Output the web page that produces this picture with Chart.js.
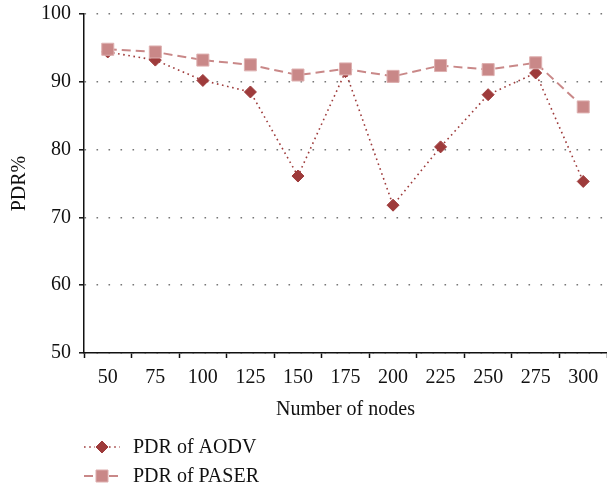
<!DOCTYPE html>
<html>
<head>
<meta charset="utf-8">
<script src="https://cdn.jsdelivr.net/npm/chart.js@4/dist/chart.umd.min.js"></script>
<style>
  html, body { margin: 0; padding: 0; background: #fff; }
  #wrap { width: 607px; height: 491px; position: relative; }
</style>
</head>
<body>
<div id="wrap"><canvas id="c" width="607" height="491"></canvas></div>
<script>
// Packet delivery ratio versus network size
const nodeCounts = ['50', '75', '100', '125', '150', '175', '200', '225', '250', '275', '300'];
const pdrAODV  = [94.4, 93.2, 90.2, 88.5, 76.1, 91.5, 71.8, 80.4, 88.1, 91.3, 75.3];
const pdrPASER = [94.8, 94.4, 93.2, 92.5, 91.0, 91.9, 90.8, 92.4, 91.8, 92.8, 86.3];
const yTicks   = [50, 60, 70, 80, 90, 100];

const SERIF = '"Liberation Serif", "DejaVu Serif", serif';
const FONT_SIZE = 20;
const AODV_COLOR = '#9e3b3b';
const PASER_COLOR = '#c98888';
const PASER_EDGE = '#deb0b0';

function drawMarker(ctx, style, r, x, y) {
  if (style === 'rectRot') {
    ctx.moveTo(x, y - r); ctx.lineTo(x + r, y); ctx.lineTo(x, y + r); ctx.lineTo(x - r, y); ctx.closePath();
  } else {
    const s = Math.SQRT1_2 * r;
    ctx.rect(x - s, y - s, 2 * s, 2 * s);
  }
}

// Legend drawn below the axes: line sample with marker, then label
const sideLegend = {
  id: 'sideLegend',
  afterDraw(chart) {
    const ctx = chart.ctx;
    const rows = [447, 476];
    ctx.save();
    chart.data.datasets.forEach((ds, i) => {
      const y = rows[i];
      const x0 = 84, x1 = 120, xm = 102;
      ctx.strokeStyle = ds.borderColor;
      ctx.lineWidth = ds.borderWidth;
      ctx.setLineDash(ds.borderDash);
      ctx.beginPath();
      ctx.moveTo(x0, y); ctx.lineTo(xm - 7, y);
      ctx.moveTo(xm + 7, y); ctx.lineTo(x1, y);
      ctx.stroke();
      ctx.setLineDash([]);
      ctx.fillStyle = ds.pointBackgroundColor;
      ctx.strokeStyle = ds.pointBorderColor;
      ctx.lineWidth = ds.pointBorderWidth;
      ctx.beginPath();
      drawMarker(ctx, ds.pointStyle, ds.pointRadius, xm, y);
      ctx.fill();
      ctx.stroke();
      ctx.fillStyle = '#111';
      ctx.font = FONT_SIZE + 'px ' + SERIF;
      ctx.textBaseline = 'middle';
      ctx.textAlign = 'left';
      ctx.fillText(ds.label, 133, y + 1);
    });
    ctx.restore();
  }
};

new Chart(document.getElementById('c'), {
  type: 'line',
  data: {
    labels: nodeCounts,
    datasets: [
      {
        label: 'PDR of AODV',
        data: pdrAODV,
        borderColor: AODV_COLOR,
        borderWidth: 1.6,
        borderDash: [1.6, 3.6],
        pointStyle: 'rectRot',
        pointRadius: 6,
        pointBorderWidth: 1,
        pointBackgroundColor: AODV_COLOR,
        pointBorderColor: AODV_COLOR,
        tension: 0,
        order: 2
      },
      {
        label: 'PDR of PASER',
        data: pdrPASER,
        borderColor: PASER_COLOR,
        borderWidth: 2,
        borderDash: [9, 5],
        pointStyle: 'rect',
        pointRadius: 8.5,
        pointBorderWidth: 1,
        pointBackgroundColor: PASER_COLOR,
        pointBorderColor: PASER_EDGE,
        tension: 0,
        order: 1
      }
    ]
  },
  options: {
    responsive: false,
    animation: false,
    devicePixelRatio: 1,
    layout: { autoPadding: false, padding: { left: 0, right: 0, top: 14, bottom: 69 } },
    plugins: { legend: { display: false }, tooltip: { enabled: false } },
    scales: {
      x: {
        offset: true,
        grid: {
          offset: true,
          drawOnChartArea: false,
          drawTicks: true,
          tickLength: 5,
          tickColor: '#111',
          tickWidth: 1.5
        },
        border: { display: true, color: '#111', width: 1.5 },
        ticks: {
          color: '#111',
          font: { family: SERIF, size: FONT_SIZE },
          padding: 8,
          maxRotation: 0,
          autoSkip: false
        },
        title: {
          display: true,
          text: 'Number of nodes',
          color: '#111',
          font: { family: SERIF, size: FONT_SIZE },
          padding: { top: 4, bottom: 0 }
        },
        afterFit(scale) {
          scale.height = 69;
          scale.paddingLeft = 0;
          scale.paddingRight = 0;
        }
      },
      y: {
        min: 50,
        max: 100,
        afterBuildTicks(scale) { scale.ticks = yTicks.map(v => ({ value: v })); },
        grid: {
          color: '#777',
          lineWidth: 1.6,
          drawTicks: true,
          tickLength: 5,
          tickColor: '#111',
          tickWidth: 1.5,
          tickBorderDash: []
        },
        border: { display: true, color: '#111', width: 1.5, dash: [1.6, 10.4] },
        ticks: {
          color: '#111',
          font: { family: SERIF, size: FONT_SIZE },
          padding: 8
        },
        title: {
          display: true,
          text: 'PDR%',
          color: '#111',
          font: { family: SERIF, size: FONT_SIZE },
          padding: { top: 8, bottom: 0 }
        },
        afterFit(scale) {
          scale.width = 84;
          scale.paddingTop = 0;
          scale.paddingBottom = 0;
        }
      }
    }
  },
  plugins: [sideLegend]
});
</script>
</body>
</html>
